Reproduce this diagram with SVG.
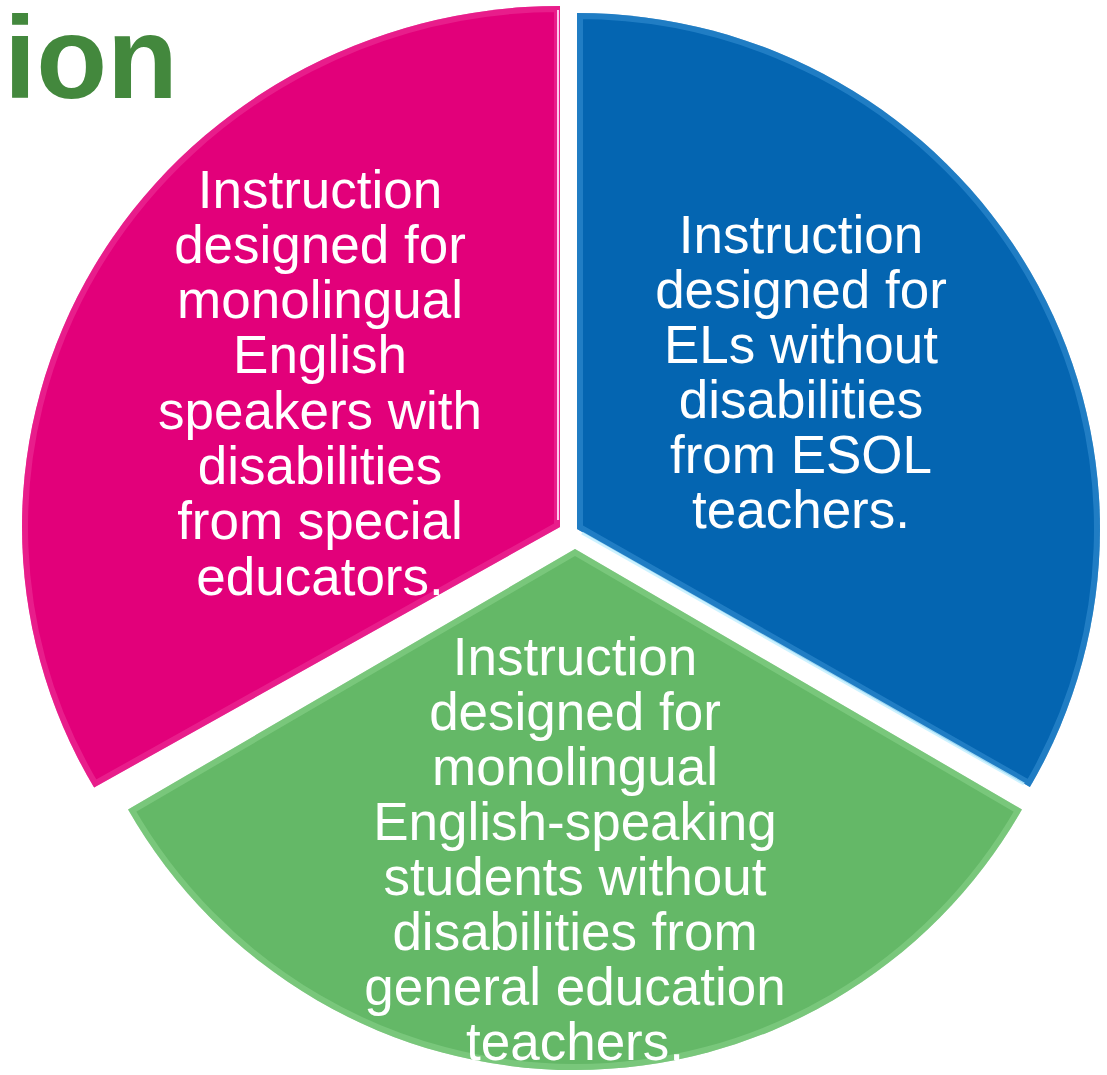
<svg xmlns="http://www.w3.org/2000/svg" width="1107" height="1075" viewBox="0 0 1107 1075">
<style>
.lbl{font-family:"Liberation Sans",Arial,sans-serif;font-size:53px;fill:#ffffff;text-anchor:middle}
.title{font-family:"Liberation Sans",Arial,sans-serif;font-size:116px;font-weight:bold;fill:#43883D}
.bevel{fill:none;stroke-width:12}
</style>
<defs>
<path id="pinkP" d="M 560 527 L 560 6 A 538 521 0 0 0 94.1 787.5 Z"/>
<path id="blueP" d="M 577 529 L 577 13 A 523 516 0 0 1 1029.9 787 Z"/>
<path id="greenP" d="M 575 549 L 1021.9 809.5 A 516 521 0 0 1 128.1 809.5 Z"/>
<clipPath id="cPink"><use href="#pinkP"/></clipPath>
<clipPath id="cBlue"><use href="#blueP"/></clipPath>
<clipPath id="cGreen"><use href="#greenP"/></clipPath>
</defs>
<rect width="1107" height="1075" fill="#ffffff"/>
<text class="title" x="4" y="98">ion</text>
<g id="slice-pink">
<use href="#pinkP" fill="#E2007A"/>
<use href="#pinkP" class="bevel" stroke="#EE3A9C" stroke-opacity="0.5" clip-path="url(#cPink)"/>
<line x1="558" y1="10" x2="558" y2="520" stroke="#FFC8EE" stroke-width="2"/>
<text class="lbl"><tspan x="320" y="208">Instruction</tspan><tspan x="320" y="263">designed for</tspan><tspan x="320" y="318">monolingual</tspan><tspan x="320" y="373">English</tspan><tspan x="320" y="429">speakers with</tspan><tspan x="320" y="484">disabilities</tspan><tspan x="320" y="539">from special</tspan><tspan x="320" y="595">educators.</tspan></text>
</g>
<g id="slice-blue">
<use href="#blueP" fill="#0465B1"/>
<use href="#blueP" class="bevel" stroke="#3C95D8" stroke-opacity="0.5" clip-path="url(#cBlue)"/>
<line x1="582" y1="533" x2="1024" y2="784" stroke="#BFEFFF" stroke-width="3" stroke-opacity="0.8"/>
<text class="lbl"><tspan x="801" y="253">Instruction</tspan><tspan x="801" y="308">designed for</tspan><tspan x="801" y="363">ELs without</tspan><tspan x="801" y="418">disabilities</tspan><tspan x="801" y="473">from ESOL</tspan><tspan x="801" y="528">teachers.</tspan></text>
</g>
<g id="slice-green">
<use href="#greenP" fill="#64B867"/>
<use href="#greenP" class="bevel" stroke="#8ED68F" stroke-opacity="0.5" clip-path="url(#cGreen)"/>
<text class="lbl"><tspan x="575" y="675">Instruction</tspan><tspan x="575" y="730">designed for</tspan><tspan x="575" y="785">monolingual</tspan><tspan x="575" y="840">English-speaking</tspan><tspan x="575" y="895">students without</tspan><tspan x="575" y="950">disabilities from</tspan><tspan x="575" y="1005">general education</tspan><tspan x="575" y="1060">teachers.</tspan></text>
</g>
<g id="connectors"></g>
</svg>
